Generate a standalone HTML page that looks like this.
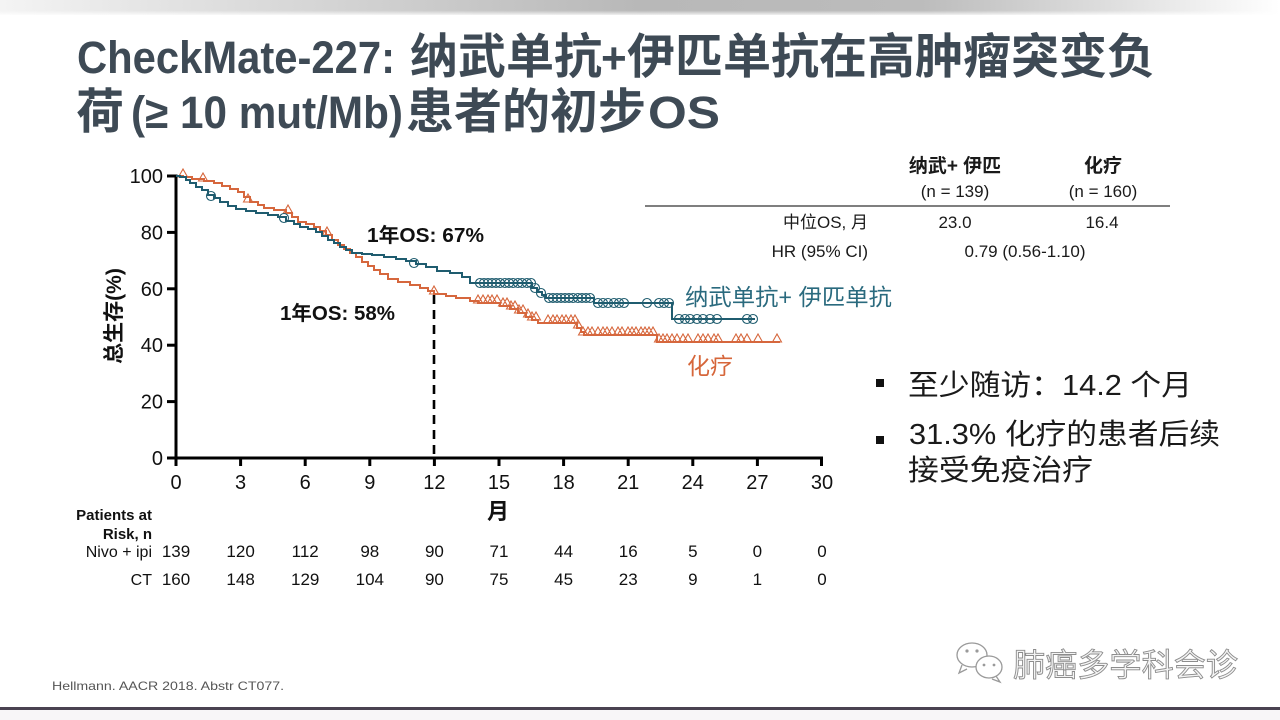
<!DOCTYPE html>
<html><head><meta charset="utf-8"><style>
html,body{margin:0;padding:0;background:#fff;}
svg{display:block;}
text{font-family:"Liberation Sans","Noto Sans CJK SC",sans-serif;}
</style></head><body>
<svg width="1280" height="720" viewBox="0 0 1280 720" xmlns="http://www.w3.org/2000/svg">
<defs>
<linearGradient id="topg" x1="0" y1="0" x2="1" y2="0">
<stop offset="0" stop-color="#f4f4f4"/>
<stop offset="0.12" stop-color="#e4e4e4"/>
<stop offset="0.5" stop-color="#b8b8b8"/>
<stop offset="0.72" stop-color="#bcbcbc"/>
<stop offset="0.9" stop-color="#e6e6e6"/>
<stop offset="1" stop-color="#ffffff"/>
</linearGradient>
<linearGradient id="topv" x1="0" y1="0" x2="0" y2="1">
<stop offset="0" stop-color="#fff" stop-opacity="0"/>
<stop offset="0.7" stop-color="#fff" stop-opacity="0"/>
<stop offset="1" stop-color="#fff" stop-opacity="0.8"/>
</linearGradient>
</defs>
<rect x="0" y="0" width="1280" height="720" fill="#fff"/>
<rect x="0" y="0" width="1280" height="15" fill="url(#topg)"/>
<rect x="0" y="0" width="1280" height="15" fill="url(#topv)"/>

<!-- Title -->
<g fill="#3e4a55" font-weight="700">
<text y="73" font-size="48"><tspan x="77" font-size="45" textLength="318" lengthAdjust="spacingAndGlyphs">CheckMate-227:</tspan><tspan x="410">纳武单抗</tspan><tspan x="601" font-size="44">+</tspan><tspan x="627">伊匹单抗在高肿瘤突变负</tspan></text>
<text y="128" font-size="48"><tspan x="76">荷</tspan><tspan x="131" font-size="45" textLength="272" lengthAdjust="spacingAndGlyphs">(≥ 10 mut/Mb)</tspan><tspan x="406">患者的初步</tspan><tspan x="648" font-size="45" textLength="72" lengthAdjust="spacingAndGlyphs">OS</tspan></text>
</g>

<!-- Top-right table -->
<g fill="#1a1a1a">
<text x="955" y="172" font-size="19" font-weight="700" text-anchor="middle">纳武+ 伊匹</text>
<text x="1103" y="172" font-size="19" font-weight="700" text-anchor="middle">化疗</text>
<text x="955" y="197" font-size="17" text-anchor="middle">(n = 139)</text>
<text x="1103" y="197" font-size="17" text-anchor="middle">(n = 160)</text>
<text x="868" y="228" font-size="17" text-anchor="end">中位OS, 月</text>
<text x="955" y="228" font-size="17" text-anchor="middle">23.0</text>
<text x="1102" y="228" font-size="17" text-anchor="middle">16.4</text>
<text x="868" y="257" font-size="17" text-anchor="end">HR (95% CI)</text>
<text x="1025" y="257" font-size="17" text-anchor="middle">0.79 (0.56-1.10)</text>
</g>
<line x1="645" y1="206" x2="1170" y2="206" stroke="#333" stroke-width="1.3"/>

<!-- Axes -->
<g stroke="#000" stroke-width="3" fill="none">
<line x1="176" y1="174.5" x2="176" y2="459.5"/>
<line x1="174.5" y1="458" x2="823" y2="458"/>
<line x1="167" y1="176" x2="176" y2="176"/>
<line x1="167" y1="232.4" x2="176" y2="232.4"/>
<line x1="167" y1="288.8" x2="176" y2="288.8"/>
<line x1="167" y1="345.2" x2="176" y2="345.2"/>
<line x1="167" y1="401.6" x2="176" y2="401.6"/>
<line x1="167" y1="458" x2="176" y2="458"/>
<line x1="176" y1="458" x2="176" y2="466"/>
<line x1="240.6" y1="458" x2="240.6" y2="466"/>
<line x1="305.2" y1="458" x2="305.2" y2="466"/>
<line x1="369.8" y1="458" x2="369.8" y2="466"/>
<line x1="434.4" y1="458" x2="434.4" y2="466"/>
<line x1="499" y1="458" x2="499" y2="466"/>
<line x1="563.6" y1="458" x2="563.6" y2="466"/>
<line x1="628.2" y1="458" x2="628.2" y2="466"/>
<line x1="692.8" y1="458" x2="692.8" y2="466"/>
<line x1="757.4" y1="458" x2="757.4" y2="466"/>
<line x1="821.5" y1="458" x2="821.5" y2="466"/>
</g>
<g font-size="20" fill="#111" text-anchor="end">
<text x="163" y="183">100</text>
<text x="163" y="239.5">80</text>
<text x="163" y="296">60</text>
<text x="163" y="352">40</text>
<text x="163" y="408.5">20</text>
<text x="163" y="465">0</text>
</g>
<g font-size="20" fill="#111" text-anchor="middle">
<text x="176" y="489">0</text>
<text x="240.6" y="489">3</text>
<text x="305.2" y="489">6</text>
<text x="369.8" y="489">9</text>
<text x="434.4" y="489">12</text>
<text x="499" y="489">15</text>
<text x="563.6" y="489">18</text>
<text x="628.2" y="489">21</text>
<text x="692.8" y="489">24</text>
<text x="757.4" y="489">27</text>
<text x="822" y="489">30</text>
</g>
<text x="498" y="519" font-size="22" font-weight="700" text-anchor="middle" fill="#111">月</text>
<text transform="translate(121,316) rotate(-90)" font-size="21" font-weight="700" text-anchor="middle" fill="#111">总生存(%)</text>

<!-- Dashed 12-month line -->
<line x1="434" y1="295" x2="434" y2="458" stroke="#000" stroke-width="2.6" stroke-dasharray="9,6"/>

<!-- Orange CT curve -->
<path fill="none" stroke="#d6673d" stroke-width="2" d="M176,176 H183 V177 H192 V179 H204 V181 H214 V183 H222 V186 H230 V189 H238 V192 H244 V197 H250 V202 H258 V205 H264 V208 H274 V210 H286 V213 H292 V217 H298 V222 H306 V224 H314 V227 H320 V231 H326 V235 H332 V240 H338 V245 H344 V249 H350 V253 H356 V257 H362 V262 H368 V266 H374 V270 H380 V274 H388 V279 H398 V282 H410 V285 H420 V288 H428 V291 H434 V294 H446 V296 H456 V298 H470 V301 H478 V303 H500 V306 H510 V309 H518 V313 H526 V317 H532 V320 H538 V323 H577 V328 H581 V332 H584 V335 H657 V342 H780"/>
<path fill="none" stroke="#d6673d" stroke-width="1.1" d="M178.5,177 l4.5,-8 l4.5,8z M198.5,181 l4.5,-8 l4.5,8z M243.5,202 l4.5,-8 l4.5,8z M283.5,213 l4.5,-8 l4.5,8z M322.5,235 l4.5,-8 l4.5,8z M429.5,294 l4.5,-8 l4.5,8z
M473.5,303 l4.5,-8 l4.5,8z M478.5,303 l4.5,-8 l4.5,8z M483.5,303 l4.5,-8 l4.5,8z M487.5,303 l4.5,-8 l4.5,8z M492.5,303 l4.5,-8 l4.5,8z M498.5,306 l4.5,-8 l4.5,8z M502.5,306 l4.5,-8 l4.5,8z M506.5,309 l4.5,-8 l4.5,8z M510.5,309 l4.5,-8 l4.5,8z M514.5,313 l4.5,-8 l4.5,8z M518.5,313 l4.5,-8 l4.5,8z M523.5,317 l4.5,-8 l4.5,8z M527.5,320 l4.5,-8 l4.5,8z M531.5,320 l4.5,-8 l4.5,8z
M543.5,323 l4.5,-8 l4.5,8z M548.5,323 l4.5,-8 l4.5,8z M552.5,323 l4.5,-8 l4.5,8z M557.5,323 l4.5,-8 l4.5,8z M561.5,323 l4.5,-8 l4.5,8z M566.5,323 l4.5,-8 l4.5,8z M570.5,323 l4.5,-8 l4.5,8z M573.5,328 l4.5,-8 l4.5,8z
M578.5,335 l4.5,-8 l4.5,8z M583.5,335 l4.5,-8 l4.5,8z M587.5,335 l4.5,-8 l4.5,8z M593.5,335 l4.5,-8 l4.5,8z M598.5,335 l4.5,-8 l4.5,8z M602.5,335 l4.5,-8 l4.5,8z M607.5,335 l4.5,-8 l4.5,8z M613.5,335 l4.5,-8 l4.5,8z M617.5,335 l4.5,-8 l4.5,8z M623.5,335 l4.5,-8 l4.5,8z M627.5,335 l4.5,-8 l4.5,8z M631.5,335 l4.5,-8 l4.5,8z M636.5,335 l4.5,-8 l4.5,8z M640.5,335 l4.5,-8 l4.5,8z M644.5,335 l4.5,-8 l4.5,8z M648.5,335 l4.5,-8 l4.5,8z
M654.5,342 l4.5,-8 l4.5,8z M658.5,342 l4.5,-8 l4.5,8z M662.5,342 l4.5,-8 l4.5,8z M667.5,342 l4.5,-8 l4.5,8z M672.5,342 l4.5,-8 l4.5,8z M678.5,342 l4.5,-8 l4.5,8z M683.5,342 l4.5,-8 l4.5,8z M693.5,342 l4.5,-8 l4.5,8z M698.5,342 l4.5,-8 l4.5,8z M703.5,342 l4.5,-8 l4.5,8z M709.5,342 l4.5,-8 l4.5,8z M713.5,342 l4.5,-8 l4.5,8z M731.5,342 l4.5,-8 l4.5,8z M736.5,342 l4.5,-8 l4.5,8z M742.5,342 l4.5,-8 l4.5,8z M753.5,342 l4.5,-8 l4.5,8z M772.5,342 l4.5,-8 l4.5,8z"/>

<!-- Blue Nivo+Ipi curve -->
<path fill="none" stroke="#1f5c6f" stroke-width="2" d="M176,176 H180 V177 H186 V180 H190 V183 H196 V187 H202 V190 H208 V195 H214 V198 H220 V202 H228 V206 H236 V209 H246 V211 H256 V213 H268 V215 H278 V217 H286 V221 H294 V224 H300 V227 H308 V229 H316 V232 H322 V236 H328 V240 H334 V243 H340 V247 H346 V250 H352 V253 H362 V254 H372 V255 H384 V257 H396 V259 H406 V261 H416 V264 H426 V267 H437 V271 H450 V273 H462 V277 H470 V283 H532 V288 H537 V292 H542 V295 H546 V298 H594 V303 H672 V319 H755"/>
<g fill="none" stroke="#1f5c6f" stroke-width="1.1">
<circle cx="211" cy="196" r="4.5"/><circle cx="284" cy="218" r="4.5"/><circle cx="414" cy="263" r="4.5"/>
<circle cx="480" cy="283" r="4.5"/><circle cx="484" cy="283" r="4.5"/><circle cx="488" cy="283" r="4.5"/><circle cx="492" cy="283" r="4.5"/><circle cx="496" cy="283" r="4.5"/><circle cx="500" cy="283" r="4.5"/><circle cx="505" cy="283" r="4.5"/><circle cx="509" cy="283" r="4.5"/><circle cx="513" cy="283" r="4.5"/><circle cx="518" cy="283" r="4.5"/><circle cx="522" cy="283" r="4.5"/><circle cx="527" cy="283" r="4.5"/><circle cx="531" cy="283" r="4.5"/>
<circle cx="535" cy="288" r="4.5"/><circle cx="541" cy="293" r="4.5"/>
<circle cx="549" cy="298" r="4.5"/><circle cx="553" cy="298" r="4.5"/><circle cx="557" cy="298" r="4.5"/><circle cx="561" cy="298" r="4.5"/><circle cx="565" cy="298" r="4.5"/><circle cx="569" cy="298" r="4.5"/><circle cx="573" cy="298" r="4.5"/><circle cx="578" cy="298" r="4.5"/><circle cx="582" cy="298" r="4.5"/><circle cx="586" cy="298" r="4.5"/><circle cx="590" cy="298" r="4.5"/>
<circle cx="598" cy="303" r="4.5"/><circle cx="603" cy="303" r="4.5"/><circle cx="608" cy="303" r="4.5"/><circle cx="614" cy="303" r="4.5"/><circle cx="619" cy="303" r="4.5"/><circle cx="624" cy="303" r="4.5"/><circle cx="647" cy="303" r="4.5"/><circle cx="659" cy="303" r="4.5"/><circle cx="664" cy="303" r="4.5"/><circle cx="669" cy="303" r="4.5"/>
<circle cx="679" cy="319" r="4.5"/><circle cx="685" cy="319" r="4.5"/><circle cx="690" cy="319" r="4.5"/><circle cx="697" cy="319" r="4.5"/><circle cx="703" cy="319" r="4.5"/><circle cx="710" cy="319" r="4.5"/><circle cx="717" cy="319" r="4.5"/><circle cx="747" cy="319" r="4.5"/><circle cx="753" cy="319" r="4.5"/>
</g>

<!-- Annotations -->
<text x="367" y="242" font-size="20" font-weight="700" fill="#111" textLength="117" lengthAdjust="spacingAndGlyphs">1年OS: 67%</text>
<text x="280" y="320" font-size="20" font-weight="700" fill="#111" textLength="115" lengthAdjust="spacingAndGlyphs">1年OS: 58%</text>
<text x="685" y="305" font-size="23" fill="#2a6a7e" textLength="207" lengthAdjust="spacingAndGlyphs">纳武单抗+ 伊匹单抗</text>
<text x="687" y="374" font-size="23" fill="#d6663a">化疗</text>

<!-- Risk table -->
<g fill="#111">
<text x="152" y="520" font-size="15" font-weight="700" text-anchor="end">Patients at</text>
<text x="152" y="539" font-size="15" font-weight="700" text-anchor="end">Risk, n</text>
<text x="152" y="557" font-size="16" text-anchor="end">Nivo + ipi</text>
<text x="152" y="585" font-size="16" text-anchor="end">CT</text>
</g>
<g font-size="17" fill="#111" text-anchor="middle">
<text x="176" y="557">139</text><text x="240.6" y="557">120</text><text x="305.2" y="557">112</text><text x="369.8" y="557">98</text><text x="434.4" y="557">90</text><text x="499" y="557">71</text><text x="563.6" y="557">44</text><text x="628.2" y="557">16</text><text x="692.8" y="557">5</text><text x="757.4" y="557">0</text><text x="822" y="557">0</text>
<text x="176" y="585">160</text><text x="240.6" y="585">148</text><text x="305.2" y="585">129</text><text x="369.8" y="585">104</text><text x="434.4" y="585">90</text><text x="499" y="585">75</text><text x="563.6" y="585">45</text><text x="628.2" y="585">23</text><text x="692.8" y="585">9</text><text x="757.4" y="585">1</text><text x="822" y="585">0</text>
</g>

<!-- Bullets -->
<rect x="876" y="379" width="8" height="8" fill="#111"/>
<rect x="876" y="436" width="8" height="8" fill="#111"/>
<g font-size="29" fill="#1a1a1a">
<text x="908" y="395" textLength="284" lengthAdjust="spacingAndGlyphs">至少随访：14.2 个月</text>
<text x="909" y="444" textLength="311" lengthAdjust="spacingAndGlyphs">31.3% 化疗的患者后续</text>
<text x="908" y="480" textLength="185" lengthAdjust="spacingAndGlyphs">接受免疫治疗</text>
</g>

<!-- Footer -->
<text x="52" y="690" font-size="12" fill="#555" textLength="232" lengthAdjust="spacingAndGlyphs">Hellmann. AACR 2018. Abstr CT077.</text>
<g fill="none" stroke="#9a9a9a" stroke-width="1.3">
<ellipse cx="972" cy="655" rx="15" ry="12"/>
<ellipse cx="989" cy="667" rx="13" ry="11" fill="#fff"/>
<path d="M962,665 l-3,8 l8,-4"/>
<path d="M996,676 l4,6 l-8,-3"/>
</g>
<g fill="#9a9a9a">
<circle cx="967" cy="651" r="1.6"/><circle cx="977" cy="651" r="1.6"/>
<circle cx="984" cy="665" r="1.4"/><circle cx="994" cy="665" r="1.4"/>
</g>
<text x="1013" y="676" font-size="32" fill="#f4f4f4" stroke="#8c8c8c" stroke-width="0.9" textLength="225" lengthAdjust="spacingAndGlyphs">肺癌多学科会诊</text>

<rect x="0" y="707" width="1280" height="3" fill="#4a4251"/>
<rect x="0" y="710" width="1280" height="10" fill="#f8f6f8"/>
</svg>
</body></html>
